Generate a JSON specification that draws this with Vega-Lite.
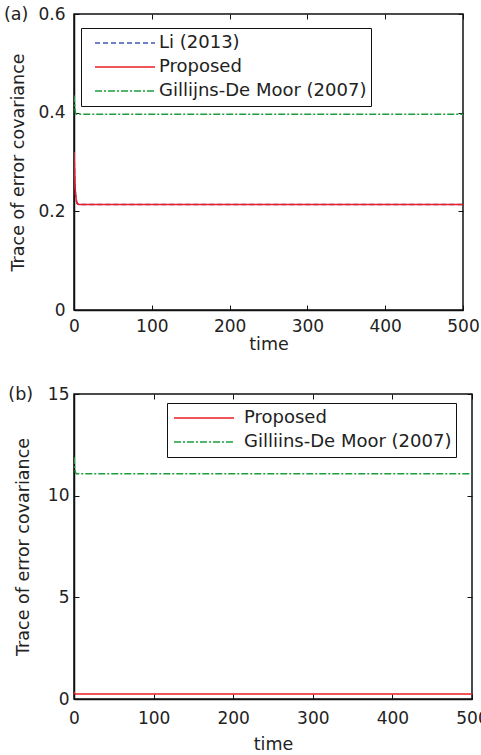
{
  "$schema": "https://vega.github.io/schema/vega-lite/v6.json",
  "padding": {"left": 3, "top": 4, "right": 0, "bottom": 0},
  "background": "white",
  "spacing": 30,
  "datasets": {
    "a": [
      {"series": "Li (2013)", "t": 0, "v": 0.32},
      {"series": "Li (2013)", "t": 1, "v": 0.265},
      {"series": "Li (2013)", "t": 2, "v": 0.235},
      {"series": "Li (2013)", "t": 3, "v": 0.222},
      {"series": "Li (2013)", "t": 4, "v": 0.216},
      {"series": "Li (2013)", "t": 6, "v": 0.214},
      {"series": "Li (2013)", "t": 500, "v": 0.214},
      {"series": "Proposed", "t": 0, "v": 0.32},
      {"series": "Proposed", "t": 1, "v": 0.265},
      {"series": "Proposed", "t": 2, "v": 0.235},
      {"series": "Proposed", "t": 3, "v": 0.222},
      {"series": "Proposed", "t": 4, "v": 0.216},
      {"series": "Proposed", "t": 6, "v": 0.214},
      {"series": "Proposed", "t": 500, "v": 0.214},
      {"series": "Gillijns-De Moor (2007)", "t": 0, "v": 0.435},
      {"series": "Gillijns-De Moor (2007)", "t": 1, "v": 0.41},
      {"series": "Gillijns-De Moor (2007)", "t": 2, "v": 0.399},
      {"series": "Gillijns-De Moor (2007)", "t": 3, "v": 0.397},
      {"series": "Gillijns-De Moor (2007)", "t": 500, "v": 0.397}
    ],
    "b": [
      {"series": "Proposed", "t": 0, "v": 0.35},
      {"series": "Proposed", "t": 1, "v": 0.27},
      {"series": "Proposed", "t": 2, "v": 0.25},
      {"series": "Proposed", "t": 500, "v": 0.25},
      {"series": "Gilliins-De Moor (2007)", "t": 0, "v": 11.9},
      {"series": "Gilliins-De Moor (2007)", "t": 1, "v": 11.3},
      {"series": "Gilliins-De Moor (2007)", "t": 2, "v": 11.12},
      {"series": "Gilliins-De Moor (2007)", "t": 3, "v": 11.08},
      {"series": "Gilliins-De Moor (2007)", "t": 500, "v": 11.08}
    ]
  },
  "resolve": {
    "scale": {"color": "independent", "strokeDash": "independent"},
    "legend": {"color": "independent", "strokeDash": "independent"}
  },
  "config": {
    "font": "DejaVu Sans",
    "view": {"stroke": "#111", "strokeWidth": 1.5},
    "axis": {
      "grid": false,
      "domainColor": "#111",
      "domainWidth": 1.5,
      "tickColor": "#111",
      "tickWidth": 1,
      "tickSize": -5,
      "labelFlush": false,
      "labelFontSize": 17,
      "labelColor": "#222",
      "titleFontSize": 17.5,
      "titleFontWeight": "normal",
      "titleColor": "#222"
    },
    "legend": {
      "title": null,
      "strokeColor": "#111",
      "fillColor": "white",
      "labelFontSize": 18,
      "labelColor": "#222",
      "labelLimit": 400,
      "symbolType": "stroke",
      "symbolSize": 3600,
      "symbolStrokeWidth": 1.5,
      "clipHeight": 22,
      "rowPadding": 2,
      "padding": 4
    },
    "title": {"fontSize": 17.5, "fontWeight": "normal", "color": "#222", "anchor": "start", "frame": "bounds"}
  },
  "vconcat": [
    {
      "width": 389,
      "height": 296,
      "title": {"text": "(a)", "dy": 22, "dx": -6},
      "data": {"name": "a"},
      "resolve": {"axis": {"x": "independent", "y": "independent"}},
      "layer": [
        {
          "mark": {"type": "line", "strokeWidth": 1.5, "clip": true},
          "encoding": {
            "x": {"field": "t", "type": "quantitative", "scale": {"domain": [0, 500], "nice": false, "padding": 0},
                  "axis": {"values": [0, 100, 200, 300, 400, 500], "title": "time", "labelPadding": 13, "titlePadding": 1}},
            "y": {"field": "v", "type": "quantitative", "scale": {"domain": [0, 0.6], "nice": false, "padding": 0},
                  "axis": {"values": [0, 0.2, 0.4, 0.6], "title": "Trace of error covariance", "labelPadding": 14, "titlePadding": 10,
                           "labelExpr": "datum.value == 0 ? '0' : format(datum.value, '.1f')"}},
            "color": {"field": "series", "type": "nominal",
                      "scale": {"domain": ["Li (2013)", "Proposed", "Gillijns-De Moor (2007)"], "range": ["#4055B8", "#ED1C24", "#1B9E3E"]},
                      "legend": {"orient": "none", "legendX": 7, "legendY": 14, "symbolOffset": 9, "labelOffset": 3}},
            "strokeDash": {"field": "series", "type": "nominal",
                      "scale": {"domain": ["Li (2013)", "Proposed", "Gillijns-De Moor (2007)"], "range": [[5, 3], [1, 0], [7, 2, 2, 2]]},
                      "legend": {"orient": "none", "legendX": 7, "legendY": 14, "symbolOffset": 9, "labelOffset": 3}}
          }
        },
        {
          "mark": {"type": "line", "strokeOpacity": 0},
          "encoding": {
            "x": {"field": "t", "type": "quantitative", "scale": {"domain": [0, 500], "nice": false, "padding": 0},
                  "axis": {"orient": "top", "values": [0, 100, 200, 300, 400, 500], "labels": false, "title": null, "domain": false}},
            "y": {"field": "v", "type": "quantitative", "scale": {"domain": [0, 0.6], "nice": false, "padding": 0},
                  "axis": {"orient": "right", "values": [0, 0.2, 0.4, 0.6], "labels": false, "title": null, "domain": false}}
          }
        }
      ]
    },
    {
      "width": 398,
      "height": 305,
      "title": {"text": "(b)", "dy": 22, "dx": -6},
      "data": {"name": "b"},
      "resolve": {"axis": {"x": "independent", "y": "independent"}},
      "layer": [
        {
          "mark": {"type": "line", "strokeWidth": 1.5, "clip": true},
          "encoding": {
            "x": {"field": "t", "type": "quantitative", "scale": {"domain": [0, 500], "nice": false, "padding": 0},
                  "axis": {"values": [0, 100, 200, 300, 400, 500], "title": "time", "labelPadding": 16, "titlePadding": 9}},
            "y": {"field": "v", "type": "quantitative", "scale": {"domain": [0, 15], "nice": false, "padding": 0},
                  "axis": {"values": [0, 5, 10, 15], "title": "Trace of error covariance", "labelPadding": 10, "titlePadding": 15}},
            "color": {"field": "series", "type": "nominal",
                      "scale": {"domain": ["Proposed", "Gilliins-De Moor (2007)"], "range": ["#ED1C24", "#1B9E3E"]},
                      "legend": {"orient": "none", "legendX": 93, "legendY": 9, "symbolOffset": 2, "labelOffset": 9}},
            "strokeDash": {"field": "series", "type": "nominal",
                      "scale": {"domain": ["Proposed", "Gilliins-De Moor (2007)"], "range": [[1, 0], [7, 2, 2, 2]]},
                      "legend": {"orient": "none", "legendX": 93, "legendY": 9, "symbolOffset": 2, "labelOffset": 9}}
          }
        },
        {
          "mark": {"type": "line", "strokeOpacity": 0},
          "encoding": {
            "x": {"field": "t", "type": "quantitative", "scale": {"domain": [0, 500], "nice": false, "padding": 0},
                  "axis": {"orient": "top", "values": [0, 100, 200, 300, 400, 500], "labels": false, "title": null, "domain": false}},
            "y": {"field": "v", "type": "quantitative", "scale": {"domain": [0, 15], "nice": false, "padding": 0},
                  "axis": {"orient": "right", "values": [0, 5, 10, 15], "labels": false, "title": null, "domain": false}}
          }
        }
      ]
    }
  ]
}
